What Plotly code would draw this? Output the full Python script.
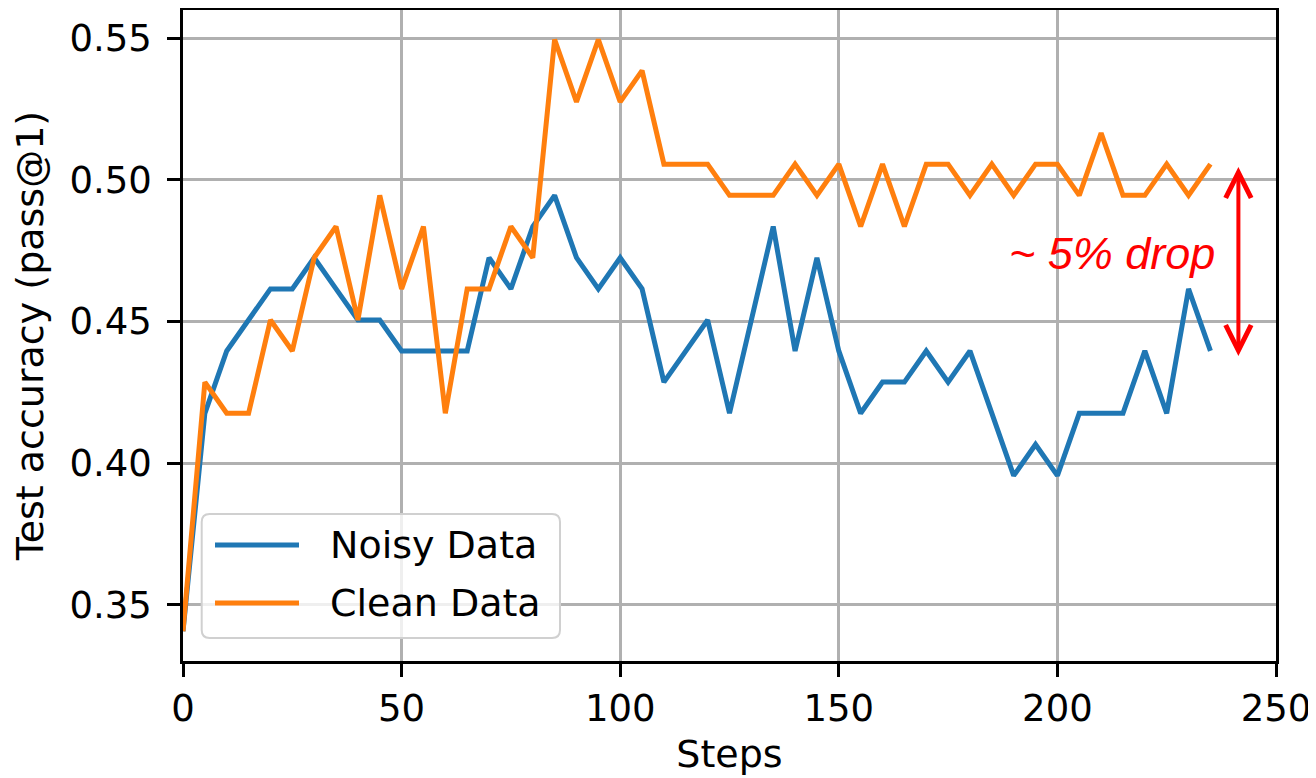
import plotly.graph_objects as go

steps = [0, 5, 10, 15, 20, 25, 30, 35, 40, 45, 50, 55, 60, 65, 70, 75, 80, 85, 90, 95,
         100, 105, 110, 115, 120, 125, 130, 135, 140, 145, 150, 155, 160, 165, 170, 175,
         180, 185, 190, 195, 200, 205, 210, 215, 220, 225, 230, 235]

noisy = [0.3407, 0.4176, 0.4396, 0.4505, 0.4615, 0.4615, 0.4725, 0.4615, 0.4505, 0.4505,
         0.4396, 0.4396, 0.4396, 0.4396, 0.4725, 0.4615, 0.4835, 0.4945, 0.4725, 0.4615,
         0.4725, 0.4615, 0.4286, 0.4396, 0.4505, 0.4176, 0.4505, 0.4835, 0.4396, 0.4725,
         0.4396, 0.4176, 0.4286, 0.4286, 0.4396, 0.4286, 0.4396, 0.4176, 0.3956, 0.4066,
         0.3956, 0.4176, 0.4176, 0.4176, 0.4396, 0.4176, 0.4615, 0.4396]

clean = [0.3407, 0.4286, 0.4176, 0.4176, 0.4505, 0.4396, 0.4725, 0.4835, 0.4505, 0.4945,
         0.4615, 0.4835, 0.4176, 0.4615, 0.4615, 0.4835, 0.4725, 0.5495, 0.5275, 0.5495,
         0.5275, 0.5385, 0.5055, 0.5055, 0.5055, 0.4945, 0.4945, 0.4945, 0.5055, 0.4945,
         0.5055, 0.4835, 0.5055, 0.4835, 0.5055, 0.5055, 0.4945, 0.5055, 0.4945, 0.5055,
         0.5055, 0.4945, 0.5165, 0.4945, 0.4945, 0.5055, 0.4945, 0.5055]

series_names = ["Noisy Data", "Clean Data"]
series_colors = ["#1f77b4", "#ff7f0e"]

x_ticks = [0, 50, 100, 150, 200, 250]
y_ticks = [0.35, 0.40, 0.45, 0.50, 0.55]
y_tick_labels = ["0.35", "0.40", "0.45", "0.50", "0.55"]

drop_text = "~ 5% drop"
drop_arrow_x = 241.4
drop_arrow_top = 0.5050
drop_arrow_bottom = 0.4378
drop_text_x = 212.6
drop_text_y = 0.474

FONT = "DejaVu Sans"
FS = 37
TITLE_FS = 38
LEG_FS = 38

# page has an 8px body margin; compensate so the plot area lands at page px 183..1276 x 10..661
OFF = 8
fig = go.Figure()
for name, vals, col in zip(series_names, [noisy, clean], series_colors):
    fig.add_trace(go.Scatter(x=steps, y=vals, mode="lines", name=name,
                             line=dict(color=col, width=5), showlegend=False))

# custom legend (matplotlib style); positions given in page pixels
W, H = 1093.0, 651.0
def px_x(p):
    return (p - 183.0) / W
def px_y(p):
    return (661.0 - p) / H

bx0, bx1, by0, by1 = px_x(201.7), px_x(560), px_y(638), px_y(514)
rx, ry = 8 / W, 8 / H
path = (f"M{bx0+rx},{by0} L{bx1-rx},{by0} Q{bx1},{by0} {bx1},{by0+ry} "
        f"L{bx1},{by1-ry} Q{bx1},{by1} {bx1-rx},{by1} L{bx0+rx},{by1} "
        f"Q{bx0},{by1} {bx0},{by1-ry} L{bx0},{by0+ry} Q{bx0},{by0} {bx0+rx},{by0} Z")
shapes = [dict(type="path", xref="paper", yref="paper", path=path,
               fillcolor="rgba(255,255,255,0.8)", line=dict(color="#d0d0d0", width=2),
               layer="above")]
annotations = []
for i, (name, col) in enumerate(zip(series_names, series_colors)):
    yy = px_y(545 + i * 58)
    shapes.append(dict(type="line", xref="paper", yref="paper",
                       x0=px_x(215), x1=px_x(299), y0=yy, y1=yy,
                       line=dict(color=col, width=5), layer="above"))
    annotations.append(dict(xref="paper", yref="paper", x=px_x(328), y=yy,
                            xanchor="left", yanchor="middle", text=name, showarrow=False,
                            font=dict(family=FONT, size=LEG_FS, color="black")))

# drop annotation
annotations.append(dict(x=drop_text_x, y=drop_text_y, xref="x", yref="y", text=f"<i>{drop_text}</i>",
                        showarrow=False, xanchor="center", yanchor="middle",
                        font=dict(family="Liberation Sans", size=45, color="red")))
annotations.append(dict(x=drop_arrow_x, y=drop_arrow_bottom, ax=drop_arrow_x, ay=drop_arrow_top,
                        xref="x", yref="y", axref="x", ayref="y", text="", showarrow=True,
                        arrowhead=5, startarrowhead=5, arrowside="end+start",
                        arrowwidth=4, arrowsize=1.25, startarrowsize=1.25, arrowcolor="red"))

fig.update_layout(
    width=1316 - OFF, height=778 - OFF,
    margin=dict(l=183 - OFF, r=40, t=10 - OFF, b=117, autoexpand=False),
    plot_bgcolor="white", paper_bgcolor="white",
    font=dict(family=FONT, size=FS, color="black"),
    shapes=shapes, annotations=annotations,
)
fig.update_xaxes(range=[0, 250], tickvals=x_ticks, ticks="outside", ticklen=13, tickwidth=2.5,
                 tickcolor="black", showline=True, linecolor="black", linewidth=2.5, mirror=True,
                 showgrid=True, gridcolor="#b0b0b0", gridwidth=2.5, zeroline=False, automargin=False,
                 title=dict(text="Steps", standoff=12, font=dict(size=TITLE_FS)), tickfont=dict(size=FS))
fig.update_yaxes(range=[0.3302, 0.5599], tickvals=y_ticks, ticktext=y_tick_labels, ticks="outside",
                 ticklen=13, tickwidth=2.5, tickcolor="black", showline=True, linecolor="black",
                 linewidth=2.5, mirror=True, showgrid=True, gridcolor="#b0b0b0", gridwidth=2.5,
                 zeroline=False, automargin=False, ticklabelstandoff=8,
                 title=dict(text="Test accuracy (pass@1)", standoff=16, font=dict(size=TITLE_FS)),
                 tickfont=dict(size=FS))

fig.write_html("out.html")
